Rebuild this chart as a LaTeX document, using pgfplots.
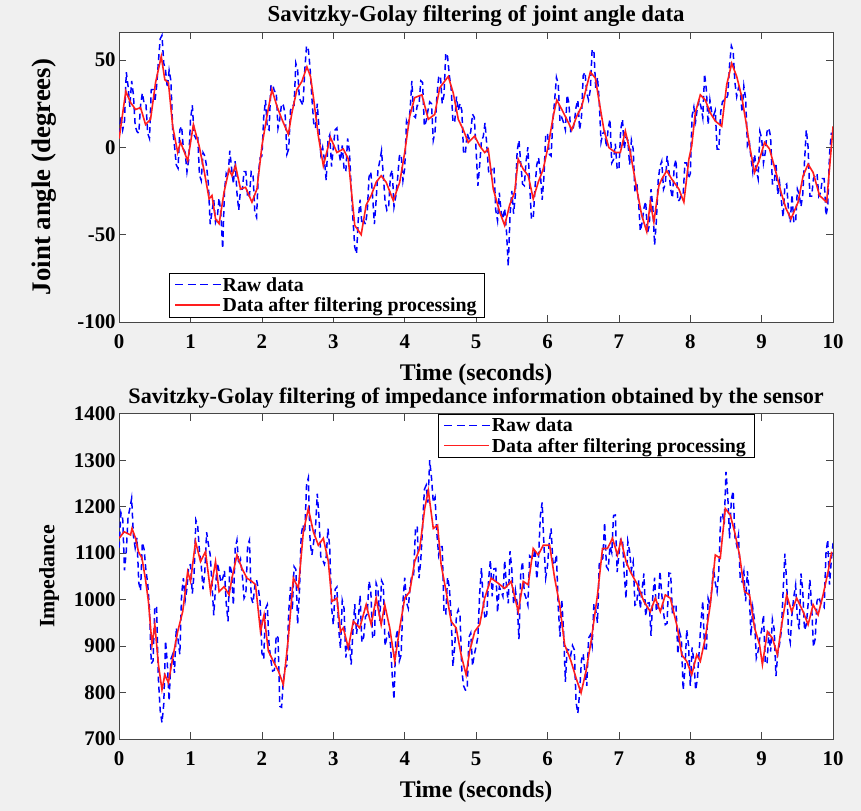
\documentclass[border=0pt]{standalone}
\usepackage{pgfplots}
\pgfplotsset{compat=1.18}
\usepackage{pgfplotstable}
\usepackage{fontspec}
\setmainfont{Liberation Serif}
\definecolor{bgc}{RGB}{240,240,240}
\definecolor{axc}{RGB}{70,70,70}
\definecolor{rawblue}{RGB}{0,0,255}
\definecolor{filtred}{RGB}{255,30,30}
\newcommand{\rawdash}{\rule[-0.75bp]{8bp}{1.5bp}}
\newcommand{\rawsample}{{\color{rawblue}\rawdash\hspace{4.5bp}\rawdash\hspace{4.5bp}\rawdash\hspace{4.5bp}\rawdash}}
\newcommand{\filtsample}{{\color{filtred}\rule[-0.8bp]{45bp}{1.6bp}}}

\pgfplotstableread[row sep=\\]{
t v\\
0 7.4\\ 0.025 18\\ 0.05 10\\ 0.075 15\\ 0.1 43\\ 0.125 35\\ 0.15 23\\ 0.175 38\\ 0.2 30\\ 0.225 12\\ 0.25 9\\ 0.275 8\\ 0.3 24\\ 0.325 31\\ 0.35 25\\ 0.375 25\\ 0.4 8\\ 0.425 5\\ 0.45 33\\ 0.475 33\\
0.5 26\\ 0.525 35\\ 0.55 49\\ 0.575 62\\ 0.6 64\\ 0.625 48\\ 0.65 44\\ 0.675 34\\ 0.7 44\\ 0.725 38\\ 0.75 10\\ 0.775 1\\ 0.8 -10\\ 0.825 -12\\ 0.85 10\\ 0.875 12\\ 0.9 -1\\ 0.925 -3\\ 0.95 -14\\ 0.975 -7\\
1.0 16\\ 1.025 24\\ 1.05 7\\ 1.075 5\\ 1.1 7\\ 1.125 -16\\ 1.15 -19\\ 1.175 -3\\ 1.2 -5\\ 1.225 -11\\ 1.25 -21\\ 1.275 -44\\ 1.3 -37\\ 1.325 -30\\ 1.35 -43\\ 1.375 -40\\ 1.4 -29\\ 1.425 -38\\ 1.45 -58\\ 1.475 -25\\
1.5 -15\\ 1.525 -17\\ 1.55 -2\\ 1.575 -12\\ 1.6 -21\\ 1.625 -8\\ 1.65 -26\\ 1.675 -36\\ 1.7 -24\\ 1.725 -24\\ 1.75 -14\\ 1.775 -14\\ 1.8 -29\\ 1.825 -28\\ 1.85 -14\\ 1.875 -15\\ 1.9 -37\\ 1.925 -40\\ 1.95 -15\\ 1.975 -6\\
2.0 -5\\ 2.025 17\\ 2.05 27\\ 2.075 11\\ 2.1 10\\ 2.125 35\\ 2.15 36\\ 2.175 32\\ 2.2 32\\ 2.225 11\\ 2.25 16\\ 2.275 25\\ 2.3 24\\ 2.325 19\\ 2.35 -4\\ 2.375 -1\\ 2.4 21\\ 2.425 24\\ 2.45 24\\ 2.475 48\\
2.5 44\\ 2.525 28\\ 2.55 26\\ 2.575 24\\ 2.6 44\\ 2.625 58\\ 2.65 56\\ 2.675 45\\ 2.7 28\\ 2.725 14\\ 2.75 11\\ 2.775 25\\ 2.8 10\\ 2.825 -4\\ 2.85 0\\ 2.875 -7\\ 2.9 -19\\ 2.925 4\\ 2.95 7\\ 2.975 -11\\
3.0 0\\ 3.025 10\\ 3.05 11\\ 3.075 -2\\ 3.1 -8\\ 3.125 1\\ 3.15 -12\\ 3.175 -14\\ 3.2 5\\ 3.225 -2\\ 3.25 -23\\ 3.275 -41\\ 3.3 -57\\ 3.325 -61\\ 3.35 -41\\ 3.375 -30\\ 3.4 -44\\ 3.425 -42\\ 3.45 -44\\ 3.475 -37\\
3.5 -17\\ 3.525 -14\\ 3.55 -28\\ 3.575 -44\\ 3.6 -30\\ 3.625 -13\\ 3.65 -8\\ 3.675 -2\\ 3.7 -16\\ 3.725 -31\\ 3.75 -36\\ 3.775 -34\\ 3.8 -16\\ 3.825 -13\\ 3.85 -34\\ 3.875 -28\\ 3.9 -18\\ 3.925 -5\\ 3.95 -4\\ 3.975 -19\\
4.0 -12\\ 4.025 15\\ 4.05 12\\ 4.075 21\\ 4.1 38\\ 4.125 18\\ 4.15 17\\ 4.175 24\\ 4.2 24\\ 4.225 38\\ 4.25 37\\ 4.275 12\\ 4.3 15\\ 4.325 21\\ 4.35 26\\ 4.375 25\\ 4.4 4\\ 4.425 9\\ 4.45 29\\ 4.475 40\\
4.5 41\\ 4.525 25\\ 4.55 30\\ 4.575 54\\ 4.6 52\\ 4.625 41\\ 4.65 34\\ 4.675 15\\ 4.7 14\\ 4.725 29\\ 4.75 21\\ 4.775 25\\ 4.8 21\\ 4.825 -4\\ 4.85 -3\\ 4.875 8\\ 4.9 5\\ 4.925 9\\ 4.95 19\\ 4.975 17\\
5.0 -2\\ 5.025 -22\\ 5.05 -10\\ 5.075 4\\ 5.1 6\\ 5.125 14\\ 5.15 1\\ 5.175 -14\\ 5.2 -16\\ 5.225 -12\\ 5.25 -11\\ 5.275 -36\\ 5.3 -42\\ 5.325 -26\\ 5.35 -37\\ 5.375 -41\\ 5.4 -35\\ 5.425 -48\\ 5.45 -68\\ 5.475 -39\\
5.5 -25\\ 5.525 -38\\ 5.55 -27\\ 5.575 -2\\ 5.6 4\\ 5.625 -9\\ 5.65 -21\\ 5.675 -22\\ 5.7 -8\\ 5.725 0\\ 5.75 -21\\ 5.775 -41\\ 5.8 -41\\ 5.825 -23\\ 5.85 -10\\ 5.875 -6\\ 5.9 -15\\ 5.925 -30\\ 5.95 -17\\ 5.975 7\\
6.0 8\\ 6.025 -4\\ 6.05 -5\\ 6.075 15\\ 6.1 27\\ 6.125 40\\ 6.15 36\\ 6.175 15\\ 6.2 17\\ 6.225 14\\ 6.25 10\\ 6.275 30\\ 6.3 25\\ 6.325 9\\ 6.35 9\\ 6.375 14\\ 6.4 23\\ 6.425 27\\ 6.45 10\\ 6.475 17\\
6.5 41\\ 6.525 43\\ 6.55 31\\ 6.575 27\\ 6.6 33\\ 6.625 56\\ 6.65 55\\ 6.675 34\\ 6.7 40\\ 6.725 26\\ 6.75 3\\ 6.775 8\\ 6.8 9\\ 6.825 0\\ 6.85 11\\ 6.875 16\\ 6.9 -9\\ 6.925 -7\\ 6.95 2\\ 6.975 -12\\
7.0 -13\\ 7.025 10\\ 7.05 16\\ 7.075 -1\\ 7.1 6\\ 7.125 4\\ 7.15 -10\\ 7.175 4\\ 7.2 -1\\ 7.225 -26\\ 7.25 -20\\ 7.275 -31\\ 7.3 -48\\ 7.325 -43\\ 7.35 -35\\ 7.375 -31\\ 7.4 -49\\ 7.425 -45\\ 7.45 -24\\ 7.475 -34\\
7.5 -56\\ 7.525 -42\\ 7.55 -19\\ 7.575 -11\\ 7.6 -8\\ 7.625 -24\\ 7.65 -21\\ 7.675 -5\\ 7.7 -13\\ 7.725 -24\\ 7.75 -29\\ 7.775 -11\\ 7.8 -7\\ 7.825 -31\\ 7.85 -30\\ 7.875 -27\\ 7.9 -27\\ 7.925 -9\\ 7.95 -9\\ 7.975 -18\\
8.0 -15\\ 8.025 18\\ 8.05 23\\ 8.075 15\\ 8.1 23\\ 8.125 27\\ 8.15 23\\ 8.175 17\\ 8.2 42\\ 8.225 33\\ 8.25 13\\ 8.275 27\\ 8.3 20\\ 8.325 18\\ 8.35 21\\ 8.375 -1\\ 8.4 -1\\ 8.425 20\\ 8.45 26\\ 8.475 27\\
8.5 27\\ 8.525 30\\ 8.55 47\\ 8.575 58\\ 8.6 55\\ 8.625 37\\ 8.65 29\\ 8.675 34\\ 8.7 32\\ 8.725 20\\ 8.75 35\\ 8.775 28\\ 8.8 1\\ 8.825 4\\ 8.85 -6\\ 8.875 -14\\ 8.9 -4\\ 8.925 -13\\ 8.95 -18\\ 8.975 9\\
9.0 5\\ 9.025 -9\\ 9.05 -3\\ 9.075 9\\ 9.1 11\\ 9.125 6\\ 9.15 -21\\ 9.175 -21\\ 9.2 -9\\ 9.225 -27\\ 9.25 -20\\ 9.275 -30\\ 9.3 -40\\ 9.325 -22\\ 9.35 -21\\ 9.375 -36\\ 9.4 -43\\ 9.425 -27\\ 9.45 -43\\ 9.475 -43\\
9.5 -24\\ 9.525 -27\\ 9.55 -34\\ 9.575 -27\\ 9.6 -8\\ 9.625 10\\ 9.65 0\\ 9.675 -28\\ 9.7 -28\\ 9.725 -18\\ 9.75 -16\\ 9.775 -15\\ 9.8 -28\\ 9.825 -26\\ 9.85 -18\\ 9.875 -18\\ 9.9 -39\\ 9.925 -34\\ 9.95 -4\\ 9.975 8\\ 10.0 8\\
}\rawtop

\pgfplotstableread[row sep=\\]{
t v\\
0 5\\ 0.093 32\\ 0.16 25.6\\ 0.23 21.6\\ 0.3 22.7\\ 0.37 13\\ 0.44 16\\ 0.51 37\\ 0.59 52\\ 0.64 38.6\\ 0.69 37\\ 0.75 12\\ 0.82 -3\\ 0.86 3\\ 0.96 -7.8\\ 1.04 13\\ 1.12 0.8\\ 1.19 -13.4\\ 1.26 -29.5\\ 1.3 -27.6\\
1.35 -41\\ 1.4 -43.7\\ 1.47 -25.6\\ 1.54 -12.5\\ 1.58 -16.3\\ 1.63 -10.6\\ 1.7 -23.9\\ 1.77 -22.9\\ 1.86 -31.4\\ 1.93 -23.9\\ 2.0 0.8\\ 2.07 17.8\\ 2.14 33\\ 2.21 23.5\\ 2.28 16\\ 2.37 7.4\\ 2.42 19.7\\ 2.49 33\\ 2.56 37.7\\ 2.63 46\\
2.68 40.5\\ 2.72 29\\ 2.79 6.4\\ 2.86 -10.6\\ 2.96 5.6\\ 3.05 -3\\ 3.14 -1\\ 3.21 -6.8\\ 3.3 -44.7\\ 3.39 -50\\ 3.46 -33\\ 3.53 -27.6\\ 3.6 -20\\ 3.67 -16.3\\ 3.74 -20\\ 3.84 -30.5\\ 3.93 -20\\ 4.0 -3\\ 4.07 17.8\\ 4.14 28.4\\
4.24 30\\ 4.33 16\\ 4.42 18.8\\ 4.49 34\\ 4.61 40.5\\ 4.68 31\\ 4.75 16\\ 4.82 10\\ 4.89 2.7\\ 4.98 6.4\\ 5.05 0.8\\ 5.12 -3\\ 5.17 -1\\ 5.24 -23.9\\ 5.33 -37\\ 5.4 -44.7\\ 5.47 -33\\ 5.54 -25.6\\ 5.59 -6.8\\ 5.66 -12.5\\
5.73 -16.3\\ 5.8 -29.5\\ 5.87 -20\\ 5.94 -12.5\\ 6.01 0.8\\ 6.08 17.8\\ 6.13 27\\ 6.2 21.6\\ 6.27 16\\ 6.34 10\\ 6.41 17.8\\ 6.48 23.5\\ 6.55 35\\ 6.6 43\\ 6.67 39.6\\ 6.72 27\\ 6.79 10\\ 6.86 -0.2\\ 6.95 -3\\ 7.02 -3\\
7.09 9.3\\ 7.16 -3\\ 7.25 -23.9\\ 7.32 -39\\ 7.39 -48.3\\ 7.44 -31.4\\ 7.49 -42.8\\ 7.56 -22\\ 7.6 -18.2\\ 7.67 -13.4\\ 7.74 -18.2\\ 7.84 -23.9\\ 7.91 -31.4\\ 7.98 -6.8\\ 8.02 0.8\\ 8.07 19.7\\ 8.14 30\\ 8.21 27\\ 8.28 19.7\\ 8.35 15\\
8.44 12\\ 8.51 35.8\\ 8.58 48\\ 8.65 40.5\\ 8.72 29\\ 8.79 12\\ 8.83 0.8\\ 8.9 -14.4\\ 8.97 -6.8\\ 9.04 2.7\\ 9.11 -1\\ 9.2 -14.4\\ 9.27 -25.6\\ 9.34 -35\\ 9.41 -41\\ 9.51 -31.4\\ 9.58 -16.3\\ 9.65 -9.7\\ 9.72 -14.4\\ 9.81 -27.6\\
9.91 -31.4\\ 10.0 12\\
}\filttop

\pgfplotstableread[row sep=\\]{
t v\\
0 1112\\ 0.025 1187\\ 0.05 1174\\ 0.075 1063\\ 0.1 1104\\ 0.125 1178\\ 0.15 1196\\ 0.175 1218\\ 0.2 1137\\ 0.225 1111\\ 0.25 1133\\ 0.275 1036\\ 0.3 1019\\ 0.325 1123\\ 0.35 1108\\ 0.375 1063\\ 0.4 1035\\ 0.425 980\\ 0.45 862\\ 0.475 868\\
0.5 986\\ 0.525 983\\ 0.55 828\\ 0.575 761\\ 0.6 735\\ 0.625 775\\ 0.65 911\\ 0.675 862\\ 0.7 782\\ 0.725 872\\ 0.75 882\\ 0.775 842\\ 0.8 939\\ 0.825 914\\ 0.85 882\\ 0.875 1012\\ 0.9 1046\\ 0.925 999\\ 0.95 1024\\ 0.975 1073\\
1.0 1075\\ 1.025 1013\\ 1.05 1056\\ 1.075 1171\\ 1.1 1159\\ 1.125 1104\\ 1.15 1073\\ 1.175 1022\\ 1.2 1060\\ 1.225 1145\\ 1.25 1119\\ 1.275 1097\\ 1.3 1035\\ 1.325 966\\ 1.35 1026\\ 1.375 1079\\ 1.4 1061\\ 1.425 1037\\ 1.45 1045\\ 1.475 1062\\
1.5 992\\ 1.525 953\\ 1.55 1075\\ 1.575 1059\\ 1.6 988\\ 1.625 1110\\ 1.65 1128\\ 1.675 1075\\ 1.7 1087\\ 1.725 1053\\ 1.75 1003\\ 1.775 1012\\ 1.8 1117\\ 1.825 1128\\ 1.85 1004\\ 1.875 992\\ 1.9 1029\\ 1.925 1042\\ 1.95 1023\\ 1.975 994\\
2.0 885\\ 2.025 872\\ 2.05 980\\ 2.075 989\\ 2.1 902\\ 2.125 870\\ 2.15 846\\ 2.175 848\\ 2.2 923\\ 2.225 918\\ 2.25 770\\ 2.275 768\\ 2.3 825\\ 2.325 853\\ 2.35 858\\ 2.375 974\\ 2.4 1027\\ 2.425 977\\ 2.45 1071\\ 2.475 1065\\
2.5 947\\ 2.525 1015\\ 2.55 1139\\ 2.575 1161\\ 2.6 1144\\ 2.625 1247\\ 2.65 1262\\ 2.675 1123\\ 2.7 1096\\ 2.725 1124\\ 2.75 1153\\ 2.775 1228\\ 2.8 1175\\ 2.825 1090\\ 2.85 1086\\ 2.875 1076\\ 2.9 1091\\ 2.925 1153\\ 2.95 1111\\ 2.975 984\\
3.0 946\\ 3.025 1022\\ 3.05 1027\\ 3.075 937\\ 3.1 895\\ 3.125 998\\ 3.15 981\\ 3.175 875\\ 3.2 906\\ 3.225 907\\ 3.25 860\\ 3.275 933\\ 3.3 990\\ 3.325 926\\ 3.35 958\\ 3.375 1009\\ 3.4 908\\ 3.425 919\\ 3.45 963\\ 3.475 969\\
3.5 1040\\ 3.525 1019\\ 3.55 919\\ 3.575 917\\ 3.6 1035\\ 3.625 1022\\ 3.65 954\\ 3.675 1041\\ 3.7 1032\\ 3.725 900\\ 3.75 920\\ 3.775 928\\ 3.8 905\\ 3.825 837\\ 3.85 785\\ 3.875 916\\ 3.9 936\\ 3.925 868\\ 3.95 881\\ 3.975 996\\
4.0 1047\\ 4.025 994\\ 4.05 981\\ 4.075 1029\\ 4.1 1053\\ 4.125 1053\\ 4.15 1150\\ 4.175 1158\\ 4.2 1046\\ 4.225 1085\\ 4.25 1156\\ 4.275 1237\\ 4.3 1246\\ 4.325 1209\\ 4.35 1300\\ 4.375 1262\\ 4.4 1209\\ 4.425 1220\\ 4.45 1143\\ 4.475 1096\\
4.5 1114\\ 4.525 1114\\ 4.55 971\\ 4.575 969\\ 4.6 1048\\ 4.625 1026\\ 4.65 965\\ 4.675 856\\ 4.7 899\\ 4.725 966\\ 4.75 978\\ 4.775 964\\ 4.8 847\\ 4.825 814\\ 4.85 805\\ 4.875 806\\ 4.9 919\\ 4.925 928\\ 4.95 857\\ 4.975 882\\
5.0 899\\ 5.025 920\\ 5.05 1014\\ 5.075 1068\\ 5.1 995\\ 5.125 958\\ 5.15 969\\ 5.175 1043\\ 5.2 1085\\ 5.225 1007\\ 5.25 1066\\ 5.275 1067\\ 5.3 972\\ 5.325 1027\\ 5.35 1018\\ 5.375 1007\\ 5.4 1084\\ 5.425 1030\\ 5.45 992\\ 5.475 1104\\
5.5 1065\\ 5.525 990\\ 5.55 1020\\ 5.575 991\\ 5.6 915\\ 5.625 1054\\ 5.65 1082\\ 5.675 1014\\ 5.7 1003\\ 5.725 988\\ 5.75 1094\\ 5.775 1090\\ 5.8 1086\\ 5.825 1109\\ 5.85 1044\\ 5.875 1092\\ 5.9 1181\\ 5.925 1209\\ 5.95 1117\\ 5.975 1047\\
6.0 1073\\ 6.025 1125\\ 6.05 1153\\ 6.075 1081\\ 6.1 1074\\ 6.125 1097\\ 6.15 985\\ 6.175 920\\ 6.2 1000\\ 6.225 931\\ 6.25 823\\ 6.275 893\\ 6.3 891\\ 6.325 880\\ 6.35 901\\ 6.375 892\\ 6.4 779\\ 6.425 755\\ 6.45 800\\ 6.475 869\\
6.5 883\\ 6.525 844\\ 6.55 814\\ 6.575 917\\ 6.6 924\\ 6.625 901\\ 6.65 991\\ 6.675 978\\ 6.7 950\\ 6.725 1077\\ 6.75 1084\\ 6.775 1089\\ 6.8 1166\\ 6.825 1071\\ 6.85 1065\\ 6.875 1115\\ 6.9 1101\\ 6.925 1181\\ 6.95 1182\\ 6.975 1059\\
7.0 1097\\ 7.025 1130\\ 7.05 1131\\ 7.075 1054\\ 7.1 1002\\ 7.125 1125\\ 7.15 1104\\ 7.175 1064\\ 7.2 1081\\ 7.225 988\\ 7.25 991\\ 7.275 1041\\ 7.3 980\\ 7.325 1022\\ 7.35 1056\\ 7.375 964\\ 7.4 992\\ 7.425 993\\ 7.45 922\\ 7.475 1008\\
7.5 1047\\ 7.525 975\\ 7.55 983\\ 7.575 1061\\ 7.6 1012\\ 7.625 971\\ 7.65 946\\ 7.675 949\\ 7.7 1057\\ 7.725 1056\\ 7.75 968\\ 7.775 990\\ 7.8 988\\ 7.825 883\\ 7.85 930\\ 7.875 915\\ 7.9 805\\ 7.925 850\\ 7.95 935\\ 7.975 902\\
8.0 814\\ 8.025 897\\ 8.05 868\\ 8.075 805\\ 8.1 830\\ 8.125 891\\ 8.15 953\\ 8.175 997\\ 8.2 890\\ 8.225 890\\ 8.25 1002\\ 8.275 987\\ 8.3 1020\\ 8.325 1068\\ 8.35 1036\\ 8.375 1017\\ 8.4 1063\\ 8.425 1176\\ 8.45 1186\\ 8.475 1162\\
8.5 1275\\ 8.525 1223\\ 8.55 1132\\ 8.575 1215\\ 8.6 1234\\ 8.625 1135\\ 8.65 1117\\ 8.675 1139\\ 8.7 1041\\ 8.725 1038\\ 8.75 1060\\ 8.775 996\\ 8.8 1061\\ 8.825 1015\\ 8.85 922\\ 8.875 982\\ 8.9 955\\ 8.925 874\\ 8.95 889\\ 8.975 919\\
9.0 934\\ 9.025 967\\ 9.05 864\\ 9.075 861\\ 9.1 931\\ 9.125 888\\ 9.15 957\\ 9.175 936\\ 9.2 835\\ 9.225 885\\ 9.25 904\\ 9.275 932\\ 9.3 1017\\ 9.325 1099\\ 9.35 1038\\ 9.375 929\\ 9.4 908\\ 9.425 969\\ 9.45 1006\\ 9.475 1031\\
9.5 960\\ 9.525 936\\ 9.55 1056\\ 9.575 1019\\ 9.6 934\\ 9.625 946\\ 9.65 990\\ 9.675 1043\\ 9.7 985\\ 9.725 898\\ 9.75 916\\ 9.775 997\\ 9.8 1006\\ 9.825 993\\ 9.85 988\\ 9.875 983\\ 9.9 1099\\ 9.925 1129\\ 9.95 1032\\ 9.975 1085\\ 10.0 1122\\
}\rawbot

\pgfplotstableread[row sep=\\]{
t v\\
0 1132\\ 0.07 1146\\ 0.16 1139\\ 0.18 1153\\ 0.23 1132\\ 0.27 1103\\ 0.32 1089\\ 0.37 1042\\ 0.41 996\\ 0.46 903\\ 0.5 946\\ 0.55 860\\ 0.6 806\\ 0.64 838\\ 0.69 821\\ 0.75 874\\ 0.82 931\\ 0.89 974\\ 0.96 1060\\ 1.0 1039\\
1.07 1125\\ 1.14 1082\\ 1.21 1103\\ 1.28 1017\\ 1.35 1082\\ 1.4 1017\\ 1.47 1028\\ 1.54 1010\\ 1.58 1046\\ 1.65 1096\\ 1.72 1067\\ 1.79 1046\\ 1.86 1039\\ 1.91 1032\\ 1.98 931\\ 2.03 967\\ 2.09 889\\ 2.16 867\\ 2.23 846\\ 2.3 817\\
2.37 917\\ 2.44 1046\\ 2.51 1024\\ 2.58 1146\\ 2.65 1196\\ 2.72 1146\\ 2.79 1117\\ 2.86 1132\\ 2.93 1082\\ 2.98 996\\ 3.05 1003\\ 3.1 931\\ 3.14 939\\ 3.21 896\\ 3.28 953\\ 3.37 939\\ 3.46 989\\ 3.53 946\\ 3.6 1003\\ 3.67 946\\
3.72 989\\ 3.79 939\\ 3.86 867\\ 3.93 939\\ 4.0 1003\\ 4.07 1017\\ 4.14 1082\\ 4.21 1110\\ 4.28 1196\\ 4.33 1235\\ 4.4 1153\\ 4.46 1160\\ 4.51 1075\\ 4.58 1017\\ 4.65 953\\ 4.72 939\\ 4.79 881\\ 4.86 838\\ 4.91 889\\ 4.98 931\\
5.05 946\\ 5.12 1003\\ 5.21 1046\\ 5.31 1035\\ 5.4 1024\\ 5.49 1039\\ 5.59 974\\ 5.66 1039\\ 5.73 1032\\ 5.8 1110\\ 5.87 1096\\ 5.94 1117\\ 6.03 1117\\ 6.1 1046\\ 6.17 989\\ 6.24 903\\ 6.33 867\\ 6.4 831\\ 6.47 799\\ 6.54 846\\
6.61 910\\ 6.7 1010\\ 6.77 1110\\ 6.84 1110\\ 6.91 1132\\ 6.98 1096\\ 7.03 1128\\ 7.1 1082\\ 7.16 1060\\ 7.26 1032\\ 7.35 996\\ 7.44 974\\ 7.51 1003\\ 7.58 974\\ 7.65 1010\\ 7.72 1003\\ 7.82 939\\ 7.88 881\\ 7.95 867\\ 8.02 838\\
8.09 881\\ 8.14 867\\ 8.21 917\\ 8.28 989\\ 8.35 1096\\ 8.42 1089\\ 8.49 1196\\ 8.56 1182\\ 8.62 1146\\ 8.69 1096\\ 8.76 1017\\ 8.83 1010\\ 8.9 939\\ 8.97 903\\ 9.01 860\\ 9.08 931\\ 9.15 917\\ 9.22 881\\ 9.28 946\\ 9.35 1010\\
9.42 974\\ 9.49 1003\\ 9.58 974\\ 9.65 946\\ 9.72 989\\ 9.79 967\\ 9.86 1010\\ 9.93 1060\\ 9.98 1103\\
}\filtbot

\pgfplotsset{
  myax/.style={
    scale only axis, width=716bp,
    xmin=0, xmax=10, xtick={0,1,...,10},
    axis line style={axc, line width=0.7bp},
    every tick/.style={axc, line width=0.7bp},
    major tick length=7bp,
    tick align=inside, tick pos=both,
    ticklabel style={font=\fontsize{21}{24}\selectfont\bfseries},
    xticklabel shift=9bp,
    /pgf/number format/assume math mode=true,
    /pgf/number format/1000 sep={},
    axis background/.style={fill=white},
    xlabel style={font=\fontsize{24}{27}\selectfont\bfseries, yshift=-9bp},
    legend style={font=\fontsize{20}{23}\selectfont\bfseries,
      fill=white, inner xsep=6bp, inner ysep=2bp, row sep=1bp},
    legend cell align=left,
  },
  rawimg/.style={legend image code/.code={%
    \node[inner sep=0pt, anchor=west] at (0bp,0bp) {\rawsample};}},
  filtimg/.style={legend image code/.code={%
    \node[inner sep=0pt, anchor=west] at (0bp,0bp) {\filtsample};}},
}

\begin{document}
\pagecolor{bgc}
\begin{tikzpicture}
\useasboundingbox (0bp,0bp) rectangle (861bp,813bp);
\begin{axis}[myax, at={(117bp,490bp)}, anchor=south west, height=291bp,
  ymin=-100, ymax=66, ytick={-100,-50,0,50},
  title={Savitzky-Golay filtering of joint angle data},
  title style={font=\fontsize{23}{26}\selectfont\bfseries, yshift=-4bp},
  xlabel={Time (seconds)},
  ylabel={Joint angle (degrees)},
  ylabel style={font=\fontsize{27}{30}\selectfont\bfseries},
  ylabel shift=14bp,
  legend style={at={(0.07,0.017)}, anchor=south west}]
\addlegendimage{rawimg}
\addlegendentry{Raw data}
\addlegendimage{filtimg}
\addlegendentry{Data after filtering processing}
\addplot[color=rawblue, line width=1.5bp, dash pattern=on 6bp off 4bp, forget plot] table[x=t,y=v] {\rawtop};
\addplot[color=filtred, line width=1.6bp, solid, forget plot] table[x=t,y=v] {\filttop};
\end{axis}
\begin{axis}[myax, at={(117bp,72bp)}, anchor=south west, height=326bp,
  ymin=700, ymax=1400, ytick={700,800,...,1400},
  title={Savitzky-Golay filtering of impedance information obtained by the sensor},
  title style={font=\fontsize{22.3}{25}\selectfont\bfseries, yshift=-4bp},
  xlabel={Time (seconds)},
  ylabel={Impedance},
  ylabel style={font=\fontsize{22}{25}\selectfont\bfseries},
  ylabel shift=8bp,
  legend style={at={(0.447,1)}, anchor=north west}]
\addlegendimage{rawimg}
\addlegendentry{Raw data}
\addlegendimage{filtimg}
\addlegendentry{Data after filtering processing}
\addplot[color=rawblue, line width=1.5bp, dash pattern=on 6bp off 4bp, forget plot] table[x=t,y=v] {\rawbot};
\addplot[color=filtred, line width=1.6bp, solid, forget plot] table[x=t,y=v] {\filtbot};
\end{axis}
\end{tikzpicture}
\end{document}
